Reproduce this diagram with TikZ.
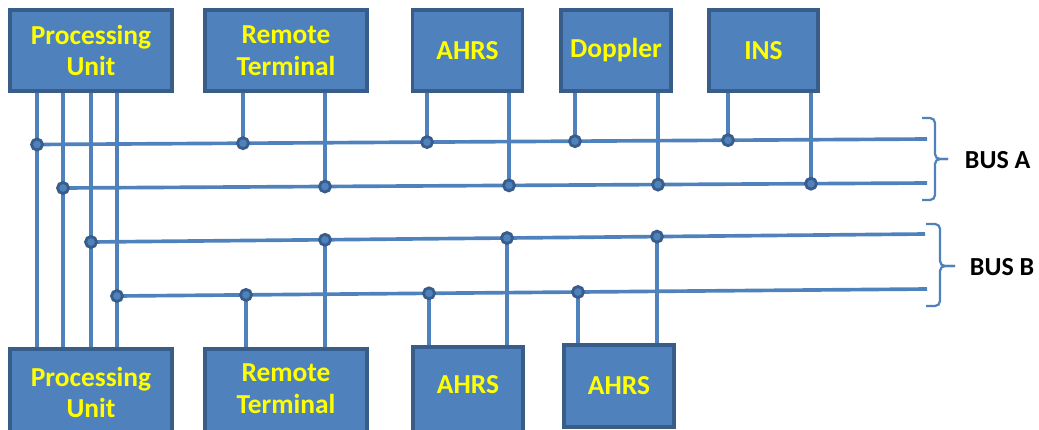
\documentclass[tikz,border=0pt]{standalone}
\usepackage{fontspec}
\setmainfont{Carlito}
\usepackage{tikz}
\definecolor{officeblue}{RGB}{79, 129, 189}
\definecolor{officenavy}{RGB}{56, 93, 138}
\definecolor{lemon}{RGB}{255, 255, 0}
\tikzset{
  unitbox/.style={draw=officenavy, fill=officeblue, line width=2.2pt, text=lemon, align=center,
                  inner sep=0pt, font=\fontsize{19.5}{22.5}\selectfont\bfseries},
  busline/.style={officeblue, line width=2.6pt},
  tap/.style={officeblue, line width=2.3pt},
  joint/.style={circle, draw=officenavy, fill=officeblue, line width=2pt, minimum size=7.8pt, inner sep=0pt},
  busbrace/.style={officeblue, line width=1.6pt, rounded corners=3.5pt},
  buslabel/.style={anchor=west, font=\fontsize{18.5}{20}\selectfont\bfseries}
}
\begin{document}
\begin{tikzpicture}[x=0.025cm, y=-0.025cm]
            \useasboundingbox (0,0) rectangle (1039,429);
            \node[unitbox, minimum width=4.05cm,  minimum height=2.025cm] (puT)   at ( 91.0, 50.5) {Processing\\Unit};
            \node[unitbox, minimum width=4.05cm,  minimum height=2.025cm] (rtT)   at (286.0, 50.5) {Remote\\Terminal};
            \node[unitbox, minimum width=2.75cm,  minimum height=2.025cm] (ahrsT) at (467.5, 50.5) {AHRS};
            \node[unitbox, minimum width=2.75cm,  minimum height=2.025cm] (dopT)  at (616.0, 50.5) {Doppler};
            \node[unitbox, minimum width=2.725cm, minimum height=2.025cm] (insT)  at (763.5, 50.5) {INS};
            \node[unitbox, minimum width=4.05cm,  minimum height=2.175cm] (puB)   at ( 91.0,392.5) {Processing\\Unit};
            \node[unitbox, minimum width=4.05cm,  minimum height=2.175cm, text depth=0.2cm] (rtB) at (286.0,392.5) {Remote\\Terminal};
            \node[unitbox, minimum width=2.75cm,  minimum height=2.15cm,  text depth=0.25cm] (ahrsB) at (468.0,390.0) {AHRS};
            \node[unitbox, minimum width=2.75cm,  minimum height=2.05cm]  (ahrs2B) at (619.0,386.0) {AHRS};
            % bus A
            \coordinate (a1pu)   at ( 37,144.5); \coordinate (a1rt)   at (243,143.2); \coordinate (a1ahrs) at (427,142.1);
            \coordinate (a1dop)  at (575,141.2); \coordinate (a1ins)  at (728,140.2); \coordinate (a1end)  at (927,139.0);
            \coordinate (a2pu)   at ( 63,188.0); \coordinate (a2rt)   at (325,186.5); \coordinate (a2ahrs) at (509,185.4);
            \coordinate (a2dop)  at (658,184.6); \coordinate (a2ins)  at (811,183.7); \coordinate (a2end)  at (927,183.0);
            % bus B
            \coordinate (b1pu)   at ( 91,242.0); \coordinate (b1rt)   at (325,239.8); \coordinate (b1ahrs) at (507,238.0);
            \coordinate (b1ahrs2) at (657,236.6); \coordinate (b1end) at (925,234.0);
            \coordinate (b2pu)   at (117,296.0); \coordinate (b2rt)   at (246,294.9); \coordinate (b2ahrs) at (429,293.3);
            \coordinate (b2ahrs2) at (578,292.0); \coordinate (b2end) at (927,289.0);
            \foreach \c in {a1pu,a2pu,b1pu,b2pu}
                \draw[tap] (puT.south -| \c) -- (puB.north -| \c);
            \draw[tap] (rtT.south -| a1rt)     -- (a1rt);
            \draw[tap] (rtT.south -| a2rt)     -- (a2rt);
            \draw[tap] (ahrsT.south -| a1ahrs) -- (a1ahrs);
            \draw[tap] (ahrsT.south -| a2ahrs) -- (a2ahrs);
            \draw[tap] (dopT.south -| a1dop)   -- (a1dop);
            \draw[tap] (dopT.south -| a2dop)   -- (a2dop);
            \draw[tap] (insT.south -| a1ins)   -- (a1ins);
            \draw[tap] (insT.south -| a2ins)   -- (a2ins);
            \draw[tap] (rtB.north -| b1rt)     -- (b1rt);
            \draw[tap] (rtB.north -| b2rt)     -- (b2rt);
            \draw[tap] (ahrsB.north -| b1ahrs) -- (b1ahrs);
            \draw[tap] (ahrsB.north -| b2ahrs) -- (b2ahrs);
            \draw[tap] (ahrs2B.north -| b1ahrs2) -- (b1ahrs2);
            \draw[tap] (ahrs2B.north -| b2ahrs2) -- (b2ahrs2);
            \draw[busline] (a1pu) -- (a1end);
            \draw[busline] (a2pu) -- (a2end);
            \draw[busline] (b1pu) -- (b1end);
            \draw[busline] (b2pu) -- (b2end);
            \foreach \c in {a1pu,a1rt,a1ahrs,a1dop,a1ins,a2pu,a2rt,a2ahrs,a2dop,a2ins,
                            b1pu,b1rt,b1ahrs,b1ahrs2,b2pu,b2rt,b2ahrs,b2ahrs2}
                \node[joint] (j\c) at (\c) {};
            % braces
            \coordinate (braceAt) at (922,118); \coordinate (braceAm) at (935,159);
            \coordinate (braceAb) at (922,200); \coordinate (braceAp) at (948,159);
            \coordinate (braceBt) at (926,224); \coordinate (braceBm) at (940,266);
            \coordinate (braceBb) at (926,306); \coordinate (braceBp) at (955,266);
            \draw[busbrace] (braceAt) -| (braceAm) -- (braceAp);
            \draw[busbrace] (braceAb) -| (braceAm) -- (braceAp);
            \draw[busbrace] (braceBt) -| (braceBm) -- (braceBp);
            \draw[busbrace] (braceBb) -| (braceBm) -- (braceBp);
            \node[buslabel] (busA) at (960,160) {BUS A};
            \node[buslabel] (busB) at (965,267) {BUS B};
\end{tikzpicture}
\end{document}
